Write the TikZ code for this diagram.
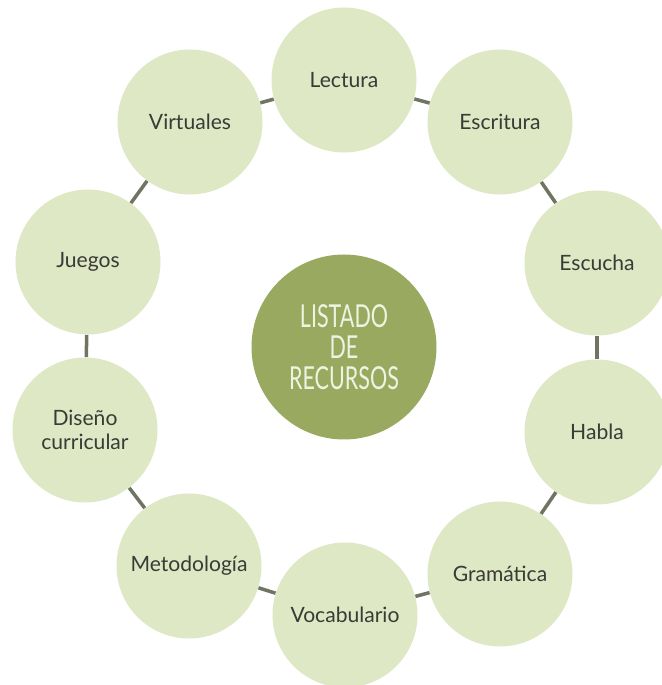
\documentclass[tikz,border=0pt]{standalone}
\usepackage{fontspec}
\setmainfont{Lato}
\newfontfamily\condfont[FakeStretch=0.68]{Lato}
\usetikzlibrary{positioning}
\definecolor{lightolive}{RGB}{222,232,196}
\definecolor{darkolive}{RGB}{153,170,96}
\definecolor{linkgray}{RGB}{112,116,98}
\definecolor{textgray}{RGB}{58,58,54}
\definecolor{centertext}{RGB}{240,243,225}

\begin{document}
\begin{tikzpicture}[
    topic/.style={circle, fill=lightolive, minimum size=2.9cm, inner sep=0pt, font=\fontsize{12}{13.8}\selectfont, text=textgray, align=center},
    hub/.style={circle, fill=darkolive, minimum size=3.7cm, inner sep=0pt, font=\condfont\fontsize{18}{17.5}\selectfont, text=centertext, align=center},
    link/.style={draw=linkgray, line width=2pt}
]
\useasboundingbox (0,0) rectangle (13.24,13.70);

\node[hub] (center) at (6.88,6.76) {LISTADO\\DE\\RECURSOS};

\node[topic] (lectura) at (6.88,12.10) {Lectura};
\node[topic] (escritura) at (10.00,11.26) {Escritura};
\node[topic] (escucha) at (11.94,8.44) {Escucha};
\node[topic] (habla) at (11.94,5.06) {Habla};
\node[topic] (gramatica) at (10.00,2.22) {Gramática};
\node[topic] (vocabulario) at (6.90,1.40) {Vocabulario};
\node[topic] (metodologia) at (3.78,2.38) {Metodología};
\node[topic] (diseno) at (1.70,5.10) {Diseño\\curricular};
\node[topic] (juegos) at (1.76,8.46) {Juegos};
\node[topic] (virtuales) at (3.80,11.26) {Virtuales};

\draw[link] (lectura) -- (escritura);
\draw[link] (escritura) -- (escucha);
\draw[link] (escucha) -- (habla);
\draw[link] (habla) -- (gramatica);
\draw[link] (gramatica) -- (vocabulario);
\draw[link] (vocabulario) -- (metodologia);
\draw[link] (metodologia) -- (diseno);
\draw[link] (diseno) -- (juegos);
\draw[link] (juegos) -- (virtuales);
\draw[link] (virtuales) -- (lectura);

\end{tikzpicture}
\end{document}
